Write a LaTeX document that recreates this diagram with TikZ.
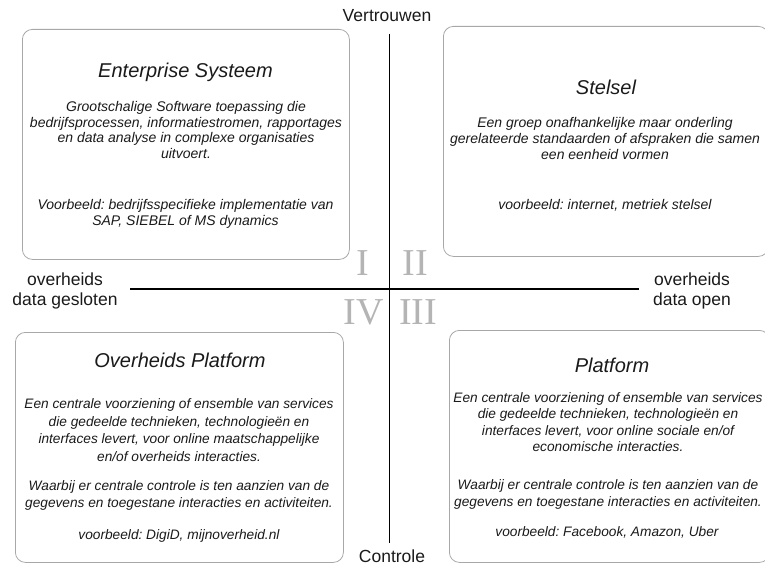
\documentclass[tikz,border=0pt]{standalone}
\usepackage{fontspec}
\setmainfont{Liberation Sans}
\newfontfamily\numeralfont{Liberation Serif}
\definecolor{cardgray}{HTML}{A8A8A8}
\definecolor{numgray}{HTML}{B4B4B4}
\definecolor{inkblack}{HTML}{1A1A1A}
\frenchspacing
\begin{document}
\begin{tikzpicture}[x=1pt,y=-1pt,
  card/.style={draw=cardgray, line width=0.8pt, rounded corners=10pt, anchor=north west, inner sep=0pt},
  cardtitle/.style={font=\fontsize{20}{24}\selectfont\itshape, text=inkblack, inner sep=0pt},
  cardbody/.style={font=\fontsize{14}{#1}\selectfont\itshape, text=inkblack, align=center, inner sep=0pt},
  cardbody/.default=15.7,
  smallbody/.style={font=\fontsize{13.7}{#1}\selectfont\itshape, text=inkblack, align=center, inner sep=0pt},
  smallbody/.default=15.7,
  axislabel/.style={font=\fontsize{17.5}{20}\selectfont, text=inkblack, align=center, inner sep=0pt},
  numeral/.style={font=\numeralfont\fontsize{38}{40}\selectfont, text=numgray, inner sep=0pt},
  axisline/.style={draw=black, line width=1.1pt}]
\clip (0,0) rectangle (765,567);

% quadrant cards
\node[card, minimum width=327pt, minimum height=230pt] (ent) at (22,29) {};
\node[card, minimum width=325pt, minimum height=230pt] (stel) at (443,26) {};
\node[card, minimum width=328pt, minimum height=230pt] (ovp) at (15,332) {};
\node[card, minimum width=320pt, minimum height=232pt] (plat) at (449,330) {};

% axes
\coordinate (vtop) at (389.5,34);
\coordinate (vbot) at (389.5,543);
\coordinate (hleft) at (130,289);
\coordinate (hright) at (639,289);
\draw[axisline] (vtop) -- (vbot);
\draw[axisline] (hleft) -- (hright);

% axis labels
\node[axislabel] (trust) at (387,16) {Vertrouwen};
\node[axislabel] (control) at (392,556.5) {Controle};
\node[axislabel] (closed) at (65,291) {overheids\\data gesloten};
\node[axislabel] (open) at (692,291) {overheids\\data open};

% quadrant numerals
\node[numeral] (q1) at (363,263.5) {I};
\node[numeral] (q2) at (415.5,263.5) {II};
\node[numeral] (q4) at (364,312) {IV};
\node[numeral] (q3) at (418,312) {III};

% card I
\node[cardtitle] (entT) at (185.5,72) {Enterprise Systeem};
\node[cardbody] (entB) at (186,130) {Grootschalige Software toepassing die\\bedrijfsprocessen, informatiestromen, rapportages\\en data analyse in complexe organisaties\\uitvoert.};
\node[cardbody] (entE) at (185.5,214) {Voorbeeld: bedrijfsspecifieke implementatie van\\SAP, SIEBEL of MS dynamics};

% card II
\node[cardtitle] (stelT) at (606,87) {Stelsel};
\node[cardbody] (stelB) at (605,138.5) {Een groep onafhankelijke maar onderling\\gerelateerde standaarden of afspraken die samen\\een eenheid vormen};
\node[cardbody] (stelE) at (605,205) {voorbeeld: internet, metriek stelsel};

% card IV
\node[cardtitle] (ovpT) at (180,360.5) {Overheids Platform};
\node[smallbody=17.6] (ovpB) at (179,430) {Een centrale voorziening of ensemble van services\\die gedeelde technieken, technologieën en\\interfaces levert, voor online maatschappelijke\\en/of overheids interacties.};
\node[smallbody=16.5] (ovpW) at (179,495.5) {Waarbij er centrale controle is ten aanzien van de\\gegevens en toegestane interacties en activiteiten.};
\node[smallbody] (ovpE) at (179,535.5) {voorbeeld: DigiD, mijnoverheid.nl};

% card III
\node[cardtitle] (platT) at (612,365) {Platform};
\node[smallbody=16.4] (platB) at (608,422) {Een centrale voorziening of ensemble van services\\die gedeelde technieken, technologieën en\\interfaces levert, voor online sociale en/of\\economische interacties.};
\node[smallbody=17.5] (platW) at (608,494.5) {Waarbij er centrale controle is ten aanzien van de\\gegevens en toegestane interacties en activiteiten.};
\node[smallbody] (platE) at (607,532.5) {voorbeeld: Facebook, Amazon, Uber};
\end{tikzpicture}
\end{document}
